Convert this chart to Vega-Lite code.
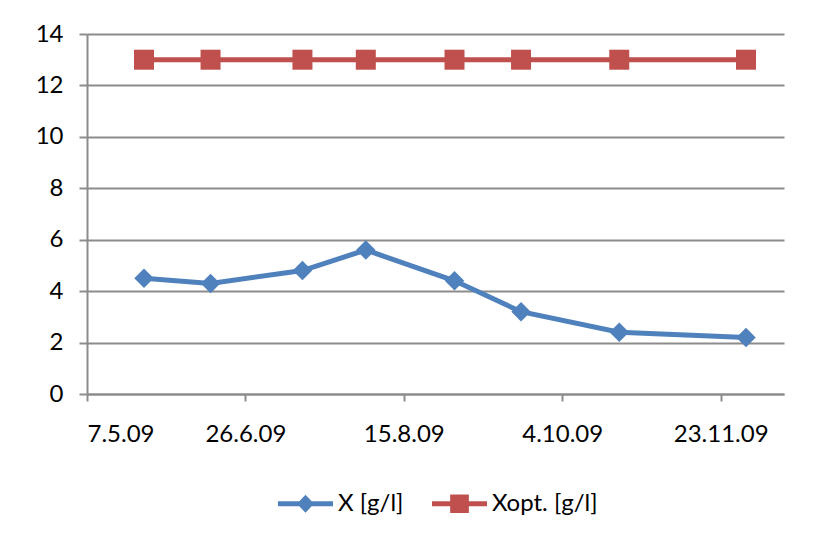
{
  "$schema": "https://vega.github.io/schema/vega-lite/v6.json",
  "width": 697,
  "height": 360,
  "autosize": {"type": "none"},
  "padding": {"left": 87, "top": 34, "right": 55, "bottom": 145},
  "background": "white",
  "config": {
    "view": {"stroke": null},
    "axis": {"labelFont": "Lato", "labelFontSize": 24, "labelColor": "#000000", "domainColor": "#8c8c8c", "tickColor": "#8c8c8c", "gridColor": "#8c8c8c", "domainWidth": 2, "tickWidth": 2, "gridWidth": 2}
  },
  "data": {
    "values": [
      {"date": "2009-05-25", "series": "X [g/l]", "value": 4.5},
      {"date": "2009-06-15", "series": "X [g/l]", "value": 4.3},
      {"date": "2009-07-14", "series": "X [g/l]", "value": 4.8},
      {"date": "2009-08-03", "series": "X [g/l]", "value": 5.6},
      {"date": "2009-08-31", "series": "X [g/l]", "value": 4.4},
      {"date": "2009-09-21", "series": "X [g/l]", "value": 3.2},
      {"date": "2009-10-22", "series": "X [g/l]", "value": 2.4},
      {"date": "2009-12-01", "series": "X [g/l]", "value": 2.2},
      {"date": "2009-05-25", "series": "Xopt. [g/l]", "value": 13},
      {"date": "2009-06-15", "series": "Xopt. [g/l]", "value": 13},
      {"date": "2009-07-14", "series": "Xopt. [g/l]", "value": 13},
      {"date": "2009-08-03", "series": "Xopt. [g/l]", "value": 13},
      {"date": "2009-08-31", "series": "Xopt. [g/l]", "value": 13},
      {"date": "2009-09-21", "series": "Xopt. [g/l]", "value": 13},
      {"date": "2009-10-22", "series": "Xopt. [g/l]", "value": 13},
      {"date": "2009-12-01", "series": "Xopt. [g/l]", "value": 13}
    ]
  },
  "encoding": {
    "x": {
      "field": "date", "type": "temporal",
      "scale": {"type": "utc", "domain": [{"year": 2009, "month": 5, "date": 7, "utc": true}, {"year": 2009, "month": 12, "date": 13, "utc": true}]},
      "axis": {
        "title": null, "grid": false, "format": "%-d.%-m.%y", "tickSize": 7, "labelPadding": 21,
        "values": [
          {"year": 2009, "month": 5, "date": 7, "utc": true},
          {"year": 2009, "month": 6, "date": 26, "utc": true},
          {"year": 2009, "month": 8, "date": 15, "utc": true},
          {"year": 2009, "month": 10, "date": 4, "utc": true},
          {"year": 2009, "month": 11, "date": 23, "utc": true}
        ]
      }
    },
    "y": {
      "field": "value", "type": "quantitative",
      "scale": {"domain": [0, 14], "nice": false},
      "axis": {"title": null, "values": [0, 2, 4, 6, 8, 10, 12, 14], "tickSize": 8, "labelPadding": 16, "grid": true}
    },
    "color": {
      "field": "series", "type": "nominal",
      "scale": {"domain": ["X [g/l]", "Xopt. [g/l]"], "range": ["#4F81BD", "#C0504D"]},
      "legend": {
        "orient": "none", "legendX": 191, "legendY": 442, "direction": "horizontal", "title": null,
        "symbolSize": 3025, "symbolStrokeWidth": 0, "labelFont": "Lato", "labelFontSize": 24, "labelColor": "#000000",
        "labelOffset": 5, "columnPadding": 28, "padding": 0,
        "encode": {
          "symbols": {
            "update": {
              "shape": {"signal": "datum.value === 'X [g/l]' ? 'M-1,-0.09L1,-0.09L1,0.09L-1,0.09ZM-0.31,0L0,-0.33L0.31,0L0,0.33Z' : 'M-1,-0.09L1,-0.09L1,0.09L-1,0.09ZM-0.34,-0.34L0.34,-0.34L0.34,0.34L-0.34,0.34Z'"},
              "size": {"value": 3025},
              "fill": {"scale": "color", "field": "value"},
              "fillOpacity": {"value": 1},
              "stroke": {"value": "transparent"},
              "strokeWidth": {"value": 0}
            }
          }
        }
      }
    }
  },
  "layer": [
    {"mark": {"type": "line", "strokeWidth": 5}},
    {
      "transform": [{"filter": "datum.series === 'X [g/l]'"}],
      "mark": {"type": "point", "filled": true, "opacity": 1, "shape": "diamond", "size": 380}
    },
    {
      "transform": [{"filter": "datum.series === 'Xopt. [g/l]'"}],
      "mark": {"type": "point", "filled": true, "opacity": 1, "shape": "square", "size": 400}
    }
  ]
}
